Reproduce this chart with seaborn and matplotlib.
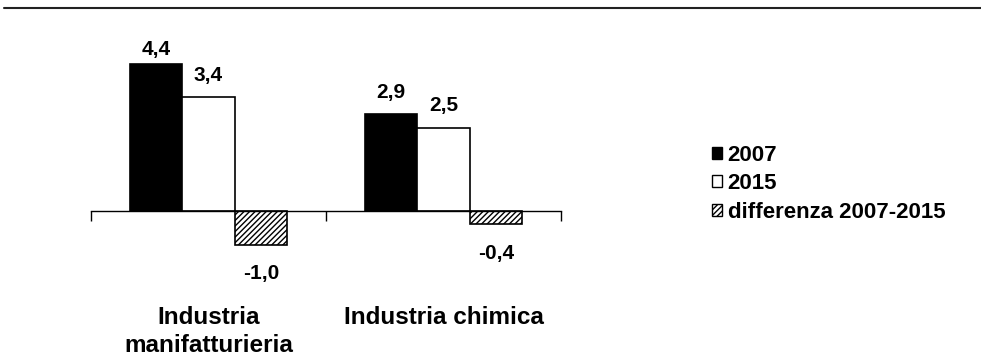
import matplotlib
matplotlib.use("Agg")
import matplotlib.pyplot as plt
from matplotlib import font_manager
from matplotlib.patches import Patch
from matplotlib.lines import Line2D
import matplotlib.transforms as mtransforms
import seaborn as sns
import pandas as pd

# Data
categories = ["Industria\nmanifatturieria", "Industria chimica"]
series = ["2007", "2015", "differenza 2007-2015"]
values_2007 = [4.4, 2.9]
values_2015 = [3.4, 2.5]
values_diff = [-1.0, -0.4]

sns.set_theme(style="white")
names = {f.name for f in font_manager.fontManager.ttflist}
family = "Liberation Sans Narrow" if "Liberation Sans Narrow" in names else "Liberation Sans"
plt.rcParams["font.family"] = [family, "DejaVu Sans"]
plt.rcParams["font.weight"] = "bold"
plt.rcParams["hatch.linewidth"] = 1.0
plt.rcParams["text.color"] = "black"
plt.rcParams["axes.labelcolor"] = "black"

df = pd.DataFrame({
    "settore": categories * 3,
    "serie": [series[0]] * 2 + [series[1]] * 2 + [series[2]] * 2,
    "valore": values_2007 + values_2015 + values_diff,
})

W, H = 981, 362
fig = plt.figure(figsize=(W / 100, H / 100), dpi=100)
ax = fig.add_axes([91 / W, (H - 300) / H, 470 / W, 260 / H])

sns.barplot(data=df, x="settore", y="valore", hue="serie", order=categories,
            hue_order=series, palette=["black", "white", "white"],
            edgecolor="black", linewidth=1.2, width=0.67, ax=ax, legend=False)

for bar in ax.containers[2]:
    bar.set_hatch("//////")

fmt = lambda v: f"{v:.1f}".replace(".", ",")
for cont, vals in zip(ax.containers, [values_2007, values_2015, values_diff]):
    for bar, v in zip(cont, vals):
        x = bar.get_x() + bar.get_width() / 2
        if v >= 0:
            pad = 4 if v > 4 else 9
            ax.annotate(fmt(v), (x, v), xytext=(0, pad), textcoords="offset points",
                        ha="center", va="bottom", fontsize=15, fontweight="bold",
                        color="black")
        else:
            ax.annotate(fmt(v), (x, v), xytext=(0, -14), textcoords="offset points",
                        ha="center", va="top", fontsize=15, fontweight="bold",
                        color="black")

ax.set_xlim(-0.5, 1.5)
ax.set_ylim(-2.66, 5.12)
for s in ["left", "right", "top"]:
    ax.spines[s].set_visible(False)
ax.spines["bottom"].set_position(("data", 0))
ax.spines["bottom"].set_color("black")
ax.spines["bottom"].set_linewidth(1.0)
ax.set_yticks([])
ax.set_xticks([-0.5, 0.5, 1.5])
ax.set_xticklabels([])
ax.tick_params(axis="x", direction="out", length=7, width=1.0, color="black", bottom=True)
ax.set_xlabel("")
ax.set_ylabel("")

trans = mtransforms.blended_transform_factory(ax.transData, fig.transFigure)
for i, cat in enumerate(categories):
    ax.text(i, 1 - 306 / H, cat, transform=trans, ha="center", va="top",
            fontsize=17.5, fontweight="bold", linespacing=1.3, color="black")

handles = [
    Patch(facecolor="black", edgecolor="black", linewidth=1.0),
    Patch(facecolor="white", edgecolor="black", linewidth=1.0),
    Patch(facecolor="white", edgecolor="black", linewidth=1.0, hatch="//////"),
]
leg = fig.legend(handles, series, loc="upper left", bbox_to_anchor=(712 / W, 1 - 145 / H),
                 frameon=False, handlelength=0.45, handleheight=0.45,
                 handletextpad=0.25, labelspacing=0.33, borderpad=0, borderaxespad=0,
                 prop={"weight": "bold", "size": 16})
for t in leg.get_texts():
    t.set_color("black")

fig.add_artist(Line2D([4 / W, 1], [1 - 8 / H, 1 - 8 / H], color="#222222", linewidth=1.5))

fig.savefig("out.png", dpi=100)
